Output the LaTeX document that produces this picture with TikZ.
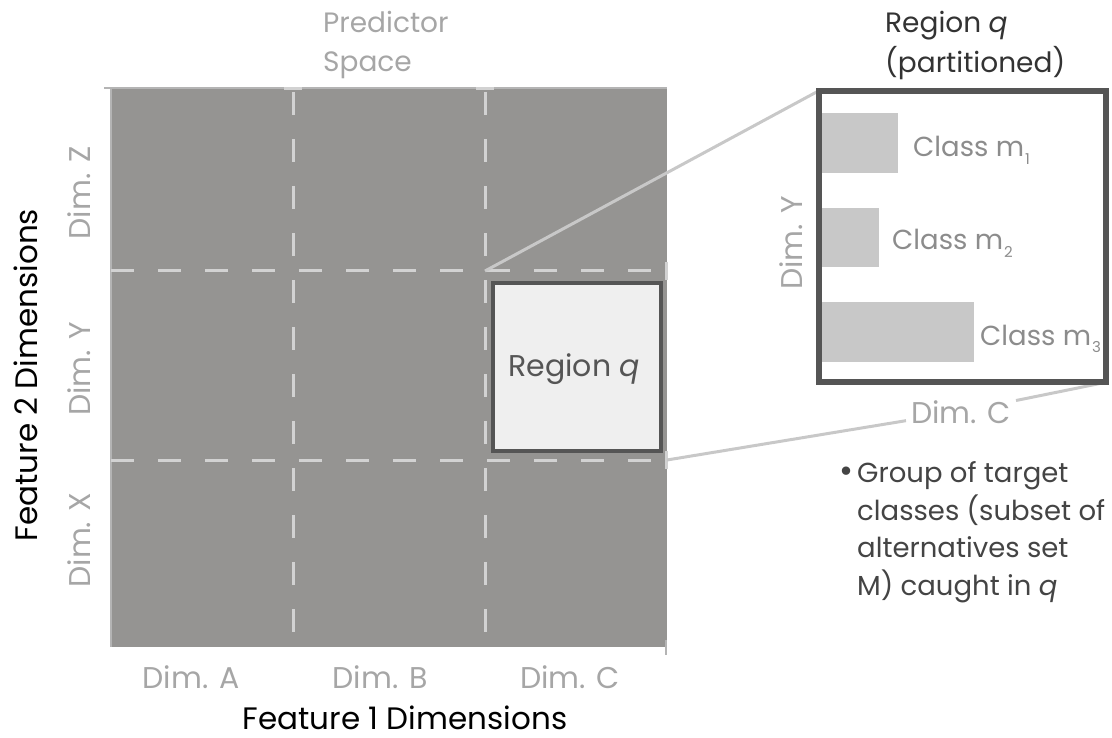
\documentclass[tikz,border=0pt]{standalone}
\usepackage{fontspec}
\setmainfont{Poppins}
\definecolor{gridgray}{HTML}{959492}
\definecolor{dashgray}{HTML}{D2D2D2}
\definecolor{edgegray}{HTML}{B4B4B4}
\definecolor{boxdark}{HTML}{555555}
\definecolor{regionfill}{HTML}{EFEFEF}
\definecolor{barfill}{HTML}{C8C8C8}
\definecolor{labelgray}{HTML}{A6A6A6}
\definecolor{classgray}{HTML}{8C8C8C}
\definecolor{textdark}{HTML}{333333}
\definecolor{notedark}{HTML}{444444}
\definecolor{linkgray}{HTML}{C8C8C8}
\tikzset{
  dashline/.style={draw=dashgray, line width=3pt, dash pattern=on 23pt off 24pt},
  tickline/.style={draw=dashgray, line width=3pt},
  link/.style={draw=linkgray, line width=3pt},
  dimlabel/.style={text=labelgray, font=\fontsize{30}{36}\selectfont, inner sep=0pt, anchor=base},
  axistitle/.style={text=black, font=\fontsize{31}{36}\selectfont, inner sep=0pt, anchor=base},
  classlabel/.style={text=classgray, font=\fontsize{27.5}{32}\selectfont, anchor=base west, inner sep=0pt},
  titleline/.style={font=\fontsize{28}{34}\selectfont, anchor=base west, inner sep=0pt},
  noteline/.style={text=notedark, font=\fontsize{27.5}{32}\selectfont, anchor=base west, inner sep=0pt},
  bar/.style={fill=barfill},
}
\newcommand{\subidx}[1]{\hspace{1pt}\raisebox{-0.5ex}{\fontsize{15}{15}\selectfont #1}}
\begin{document}
\begin{tikzpicture}[x=1pt,y=-1pt]
\useasboundingbox (0,0) rectangle (1112,738);

% predictor space grid
\fill[gridgray] (111,88) rectangle (667,647);
\draw[draw=edgegray, line width=2pt] (104,88) -- (667,88);
\draw[draw=edgegray, line width=2pt] (111,88) -- (111,647);
\foreach \x in {293,485} {
  \draw[dashline] (\x,92) -- (\x,647);
  \draw[tickline] (\x-9,89) -- (\x+9,89);
}
\foreach \y in {271,460} {
  \draw[dashline] (111,\y) -- (663,\y);
  \draw[tickline] (666,\y-9) -- (666,\y+9);
}
\draw[draw=edgegray, line width=2pt] (666,640) -- (666,655);

\coordinate (qtl) at (485,271);
\coordinate (qbr) at (667,460);

% region q
\node[draw=boxdark, line width=4pt, fill=regionfill, minimum width=168pt,
      minimum height=168pt, inner sep=0pt] (regq) at (576.5,367) {};
\node[text=boxdark, font=\fontsize{30}{34}\selectfont, anchor=base, inner sep=0pt]
  (regqlabel) at (574,377) {Region \textit{q}};

% partitioned region
\node[minimum width=287pt, minimum height=291pt, inner sep=0pt] (part) at (962.5,236.5) {};
\draw[link] (qtl) -- (part.north west);
\node[dimlabel, fill=white, inner sep=5pt] (dimc2) at (961,423) {Dim. C};
\draw[link] (qbr) -- (dimc2);
\draw[link] (dimc2) -- (part.south east);
\node[draw=boxdark, line width=6pt, minimum width=287pt, minimum height=291pt,
      inner sep=0pt] (partframe) at (part) {};

\fill[bar] (822,113) rectangle (898,173);
\fill[bar] (822,208) rectangle (879,267);
\fill[bar] (822,302) rectangle (974,362);
\node[classlabel] (m1) at (913,157) {Class m\subidx{1}};
\node[classlabel] (m2) at (892,250) {Class m\subidx{2}};
\node[classlabel] (m3) at (980,345) {Class m\subidx{3}};
\node[dimlabel, rotate=90] (dimy2) at (802,243) {Dim. Y};

% titles
\node[titleline, text=textdark] (pt1) at (885,33) {Region \textit{q}};
\node[titleline, text=textdark] (pt2) at (885,73) {(partitioned)};
\node[titleline, text=labelgray] (ps1) at (323,33) {Predictor};
\node[titleline, text=labelgray] (ps2) at (323,72) {Space};

% axis labels
\node[dimlabel] (da) at (191,688) {Dim. A};
\node[dimlabel] (db) at (380,688) {Dim. B};
\node[dimlabel] (dc) at (570,688) {Dim. C};
\node[dimlabel, rotate=90] (dz) at (90,193) {Dim. Z};
\node[dimlabel, rotate=90] (dy) at (90,369) {Dim. Y};
\node[dimlabel, rotate=90] (dx) at (90,540) {Dim. X};
\node[axistitle] (f1) at (405,729) {Feature 1 Dimensions};
\node[axistitle, rotate=90] (f2) at (37,375) {Feature 2 Dimensions};

% note
\node[noteline] (n1) at (857,482) {\llap{\fontsize{34}{34}\selectfont\textbullet\hspace{4pt}}Group of target};
\node[noteline] (n2) at (857,520) {classes (subset of};
\node[noteline] (n3) at (857,557) {alternatives set};
\node[noteline] (n4) at (857,595) {M) caught in \textit{q}};
\end{tikzpicture}
\end{document}
